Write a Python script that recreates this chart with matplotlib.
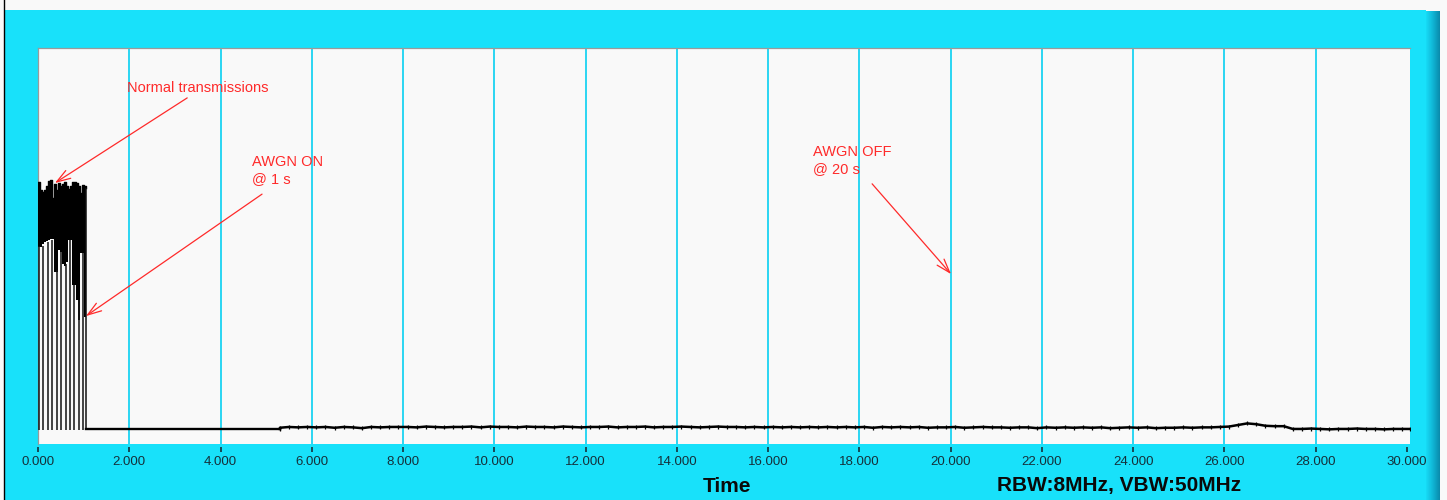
import matplotlib
matplotlib.use('Agg')
import matplotlib.pyplot as plt
import numpy as np
from matplotlib.patches import Rectangle
from matplotlib.colors import LinearSegmentedColormap

plt.rcParams['font.family'] = ['Liberation Sans', 'DejaVu Sans']

# ---------------- data ----------------
tick_values = [0, 2, 4, 6, 8, 10, 12, 14, 16, 18, 20, 22, 24, 26, 28, 30]
tick_labels = ['0.000', '2.000', '4.000', '6.000', '8.000', '10.000', '12.000', '14.000',
               '16.000', '18.000', '20.000', '22.000', '24.000', '26.000', '28.000', '30.000']
grid_values = [2, 4, 6, 8, 10, 12, 14, 16, 18, 20, 22, 24, 26, 28]

# burst of normal transmissions (0 - 1.05 s): envelope of the dense trace
burst_t = [0.00, 0.04, 0.09, 0.13, 0.18, 0.22, 0.26, 0.31, 0.35, 0.39, 0.44, 0.48, 0.53,
           0.57, 0.61, 0.66, 0.70, 0.75, 0.79, 0.83, 0.88, 0.92, 0.96, 1.01, 1.05]
burst_top = [66.2, 64.1, 63.6, 64.1, 65.2, 66.4, 66.7, 62.1, 65.7, 64.1, 65.9, 65.2, 65.7,
             66.2, 65.2, 64.4, 65.2, 66.2, 66.2, 65.9, 65.2, 63.4, 65.4, 65.2, 64.6]
burst_floor = [49.7, 49.7, 50.5, 51.0, 51.3, 51.5, 51.8, 51.8, 43.4, 43.4, 49.0, 48.5, 45.5,
               44.9, 46.0, 51.5, 51.5, 40.2, 40.2, 36.4, 31.3, 48.2, 48.2, 32.1, 32.1]
drop_t = [0.02, 0.12, 0.21, 0.31, 0.41, 0.50, 0.61, 0.70, 0.79, 0.89, 0.98, 1.05]
drop_top = [50.0, 50.0, 51.0, 51.5, 44.0, 48.5, 45.5, 51.5, 40.2, 36.4, 48.2, 64.6]

baseline_level = 3.8
quiet_t = [1.05, 5.30]
quiet_v = [3.8, 3.8]

noise_start = 5.3
noise_step = 0.2
noise_v = [4.1, 4.3, 4.2, 4.3, 4.2, 4.3, 4.1, 4.3, 4.2, 4.0,
           4.3, 4.2, 4.3, 4.3, 4.3, 4.2, 4.4, 4.3, 4.2, 4.3,
           4.3, 4.4, 4.2, 4.4, 4.3, 4.3, 4.2, 4.4, 4.3, 4.3,
           4.2, 4.4, 4.3, 4.2, 4.3, 4.3, 4.4, 4.2, 4.3, 4.3,
           4.4, 4.2, 4.3, 4.3, 4.4, 4.3, 4.2, 4.3, 4.4, 4.3,
           4.3, 4.2, 4.3, 4.2, 4.3, 4.2, 4.3, 4.2, 4.3, 4.2,
           4.3, 4.2, 4.3, 4.2, 4.3, 4.1, 4.3, 4.2, 4.3, 4.2,
           4.3, 4.1, 4.2, 4.2, 4.3, 4.1, 4.2, 4.3, 4.2, 4.2,
           4.1, 4.2, 4.2, 4.0, 4.2, 4.1, 4.2, 4.1, 4.2, 4.1,
           4.2, 4.0, 4.1, 4.2, 4.1, 4.2, 4.0, 4.1, 4.1, 4.2,
           4.1, 4.2, 4.2, 4.3,
           4.4, 4.8, 5.2, 5.0, 4.6, 4.5, 4.5,
           3.8, 3.8, 3.9, 3.8, 3.7, 3.8, 3.8, 3.9, 3.8, 3.8, 3.7, 3.8, 3.8]
noise_end_t = 30.06

annotations = [
    dict(text='Normal transmissions', text_xy=(1.95, 89.9), start=(3.27, 87.4), tip=(0.37, 65.9)),
    dict(text='AWGN ON\n@ 1 s', text_xy=(4.69, 73.0), start=(4.91, 63.1), tip=(1.05, 32.3)),
    dict(text='AWGN OFF\n@ 20 s', text_xy=(16.98, 75.6), start=(18.28, 65.7), tip=(20.01, 42.9)),
]

# ---------------- figure ----------------
W, H = 1447, 500
fig = plt.figure(figsize=(W / 100, H / 100), dpi=100)
fig.patch.set_facecolor('#f9f9f9')

bg = fig.add_axes([0, 0, 1, 1], zorder=0)
bg.set_xlim(0, W)
bg.set_ylim(H, 0)
bg.axis('off')
CYAN = '#18e1fa'
bg.add_patch(Rectangle((4.5, 10), 1421, 490, facecolor=CYAN, edgecolor='none'))
light = LinearSegmentedColormap.from_list('l', ['#2af6ff', CYAN])
bg.imshow(np.linspace(0, 1, 64)[None, :], cmap=light, extent=(4.5, 22, H, 10), aspect='auto')
dark = LinearSegmentedColormap.from_list('d', [CYAN, '#10b8d8', '#0a8aab'])
bg.imshow(np.linspace(0, 1, 64)[None, :], cmap=dark, extent=(1425, 1440, H, 11), aspect='auto')
bg.plot([3.8, 3.8], [0, H], color='black', lw=1.0)
bg.set_xlim(0, W)
bg.set_ylim(H, 0)

left, right, top, bottom = 38, 1410, 48, 444
ax = fig.add_axes([left / W, (H - bottom) / H, (right - left) / W, (bottom - top) / H], zorder=1)
ax.set_facecolor('#f9f9f9')
px_per_s = 45.63
ax.set_xlim(0, (right - left) / px_per_s)
ax.set_ylim(0, 100)

for g in grid_values:
    ax.axvline(g, color='#2ad6f2', lw=1.4, zorder=1)

# burst
ax.fill_between(burst_t, burst_floor, burst_top, step='post', color='black', lw=0, zorder=3)
ax.step(burst_t, burst_top, where='post', color='black', lw=1.0, zorder=3)
ax.vlines(drop_t, 3.5, drop_top, color='#111111', lw=1.1, zorder=3)

# quiet + noise floor
ax.plot(quiet_t, quiet_v, color='black', lw=1.7, zorder=3)
noise_t = [noise_start + noise_step * i for i in range(len(noise_v))] + [noise_end_t]
noise_vals = noise_v + [baseline_level]
ax.plot([quiet_t[-1]] + noise_t, [baseline_level] + noise_vals, color='black', lw=1.8,
        marker='|', ms=3.2, mew=0.9, zorder=3)

RED = '#ff2a2a'
for a in annotations:
    ax.text(a['text_xy'][0], a['text_xy'][1], a['text'], color=RED, fontsize=10.5,
            ha='left', va='top' if '\n' in a['text'] else 'center', linespacing=1.3, zorder=4)
    ax.annotate('', xy=a['tip'], xytext=a['start'],
                arrowprops=dict(arrowstyle='->,head_length=1.0,head_width=0.33', color=RED,
                                lw=0.9, shrinkA=0, shrinkB=0), zorder=4)

for s in ['right', 'bottom']:
    ax.spines[s].set_visible(False)
for s in ['top', 'left']:
    ax.spines[s].set_color('#9a9a9a')
    ax.spines[s].set_linewidth(0.9)
ax.spines['bottom'].set_position(('outward', 2.2))
ax.set_yticks([])
ax.set_xticks(tick_values)
ax.set_xticklabels(tick_labels)
ax.tick_params(axis='x', direction='out', length=3.8, width=1.2, color='#15303a',
               labelcolor='#15303a', labelsize=9.5, pad=2.5)

fig.text(727 / W, 1 - 486 / H, 'Time', ha='center', va='center', fontsize=15, weight='bold', color='#0a0a0a')
fig.text(1119 / W, 1 - 486 / H, 'RBW:8MHz, VBW:50MHz', ha='center', va='center', fontsize=15,
         weight='bold', color='#0a0a0a')

fig.savefig('out.png', dpi=100, facecolor=fig.get_facecolor())
